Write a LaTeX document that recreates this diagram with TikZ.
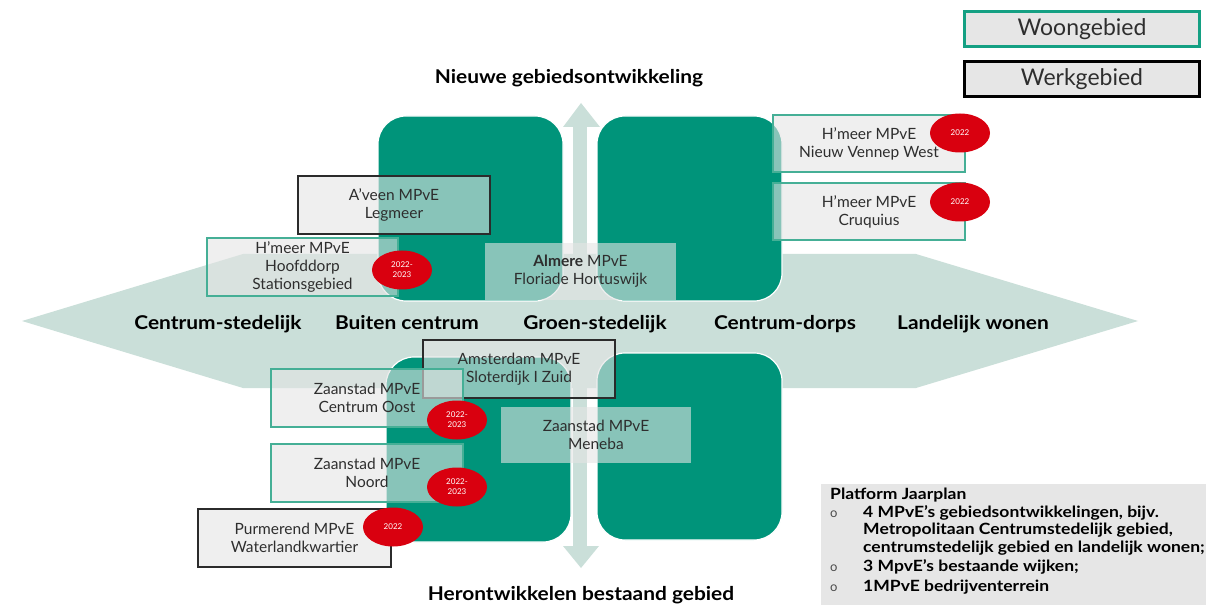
\documentclass[tikz,border=0pt]{standalone}
\usepackage{fontspec}
\setmainfont{Lato}
\newfontfamily\headfont[FakeStretch=1.1]{Lato}
\newfontfamily\platfont[FakeStretch=1.13]{Lato}
\usetikzlibrary{shapes.geometric}
\definecolor{teal1}{HTML}{00947A}
\definecolor{lightarr}{HTML}{CADFD9}
\definecolor{boxfill}{HTML}{E4E4E4}
\definecolor{boxteal}{HTML}{45AF96}
\definecolor{legteal}{HTML}{14A083}
\definecolor{boxblack}{HTML}{2B2B2B}
\definecolor{badgered}{HTML}{D9000F}
\definecolor{legfill}{HTML}{E6E6E6}
\definecolor{txtgray}{HTML}{2E2E2E}
\begin{document}
\begin{tikzpicture}[x=1pt,y=-1pt,
 zone/.style={fill=teal1, draw=white, line width=1.2pt, rounded corners=28pt},
 mbox/.style={fill=boxfill, fill opacity=0.6, text opacity=1, align=center, inner sep=0pt,
   minimum width=192pt, minimum height=58pt, font=\fontsize{15.5}{18}\selectfont, text=txtgray},
 woon/.style={mbox, draw=boxteal, line width=1.5pt},
 werk/.style={mbox, draw=boxblack, line width=1.5pt},
 badge/.style={ellipse, fill=badgered, minimum width=60pt, minimum height=39pt, inner sep=0pt,
   text=white, align=center, font=\fontsize{8}{10}\selectfont},
 axislabel/.style={font=\headfont\fontsize{19}{21}\selectfont\bfseries, anchor=base, text=black},
 legend/.style={fill=legfill, line width=3pt, minimum width=235pt, minimum height=35pt,
   inner sep=0pt, font=\fontsize{23}{26}\selectfont, text=txtgray},
 plat/.style={anchor=base west, inner sep=0pt, font=\platfont\fontsize{15.5}{18}\selectfont\bfseries, text=black},
 bul/.style={anchor=base west, inner sep=0pt, font=\fontsize{13}{18}\selectfont, text=black!70}
]
\useasboundingbox (0,0) rectangle (1206,609);

% big horizontal arrow
\fill[lightarr] (22,321) -- (243,254) -- (916,254) -- (1138,321) -- (916,388) -- (243,388) -- cycle;

% vertical arrow
\fill[lightarr] (573,127) rectangle (587,546);
\fill[lightarr] (563,127) -- (581,103) -- (600,127) -- cycle;
\fill[lightarr] (563,546) -- (581,568) -- (599,546) -- cycle;

% teal zones
\draw[zone] (378,116) rectangle (563,301);
\draw[zone] (597,116) rectangle (782,301);
\draw[zone] (386,357) rectangle (571,542);
\draw[zone] (597,353) rectangle (782,540);

% MPvE boxes
\node[werk] (aveen) at (394,205) {A’veen MPvE\\Legmeer};
\node[woon, minimum width=191pt] (hoofddorp) at (302.5,267) {H’meer MPvE\\Hoofddorp\\Stationsgebied};
\node[mbox, minimum width=191pt, minimum height=57pt] (almere) at (580.5,271.5) {\textbf{Almere} MPvE\\Floriade Hortuswijk};
\node[woon, minimum height=57pt] (vennep) at (869,143.5) {H’meer MPvE\\Nieuw Vennep West};
\node[woon, minimum height=57pt] (cruquius) at (869,211.5) {H’meer MPvE\\Cruquius};
\node[werk] (amsterdam) at (519,369) {Amsterdam MPvE\\Sloterdijk I Zuid};
\node[woon] (centrumoost) at (367,398) {Zaanstad MPvE\\Centrum Oost};
\node[mbox, minimum width=190pt, minimum height=56pt] (meneba) at (596,435) {Zaanstad MPvE\\Meneba};
\node[woon] (noord) at (367,473) {Zaanstad MPvE\\Noord};
\node[werk, minimum width=193pt] (purmerend) at (294.5,538) {Purmerend MPvE\\Waterlandkwartier};

% badges
\node[badge] (b1) at (402,270) {2022-\\2023};
\node[badge] (b2) at (960,133) {2022};
\node[badge] (b3) at (960,202) {2022};
\node[badge] (b4) at (457,420) {2022-\\2023};
\node[badge] (b5) at (457,487) {2022-\\2023};
\node[badge] (b6) at (393,527) {2022};

% axis labels
\node[axislabel] (top) at (569,84) {Nieuwe gebiedsontwikkeling};
\node[axislabel] (bottom) at (581,600) {Herontwikkelen bestaand gebied};
\node[axislabel] (l1) at (218,329) {Centrum-stedelijk};
\node[axislabel] (l2) at (407,329) {Buiten centrum};
\node[axislabel] (l3) at (595,329) {Groen-stedelijk};
\node[axislabel] (l4) at (785,329) {Centrum-dorps};
\node[axislabel] (l5) at (973,329) {Landelijk wonen};

% legend
\node[legend, draw=legteal] (woongebied) at (1082,29) {Woongebied};
\node[legend, draw=black] (werkgebied) at (1082,79) {Werkgebied};

% platform jaarplan
\node[fill=legfill, minimum width=385pt, minimum height=121pt, inner sep=0pt] (platform) at (1013.5,544.5) {};
\node[plat] (pt) at (830,499) {Platform Jaarplan};
\node[bul] (o1) at (830,517) {o};
\node[plat] (i1a) at (863,517) {4 MPvE’s gebiedsontwikkelingen, bijv.};
\node[plat] (i1b) at (863,534.5) {Metropolitaan Centrumstedelijk gebied,};
\node[plat] (i1c) at (863,552) {centrumstedelijk gebied en landelijk wonen;};
\node[bul] (o2) at (830,571) {o};
\node[plat] (i2) at (863,571) {3 MpvE’s bestaande wijken;};
\node[bul] (o3) at (830,591) {o};
\node[plat] (i3) at (863,591) {1MPvE bedrijventerrein};
\end{tikzpicture}
\end{document}
